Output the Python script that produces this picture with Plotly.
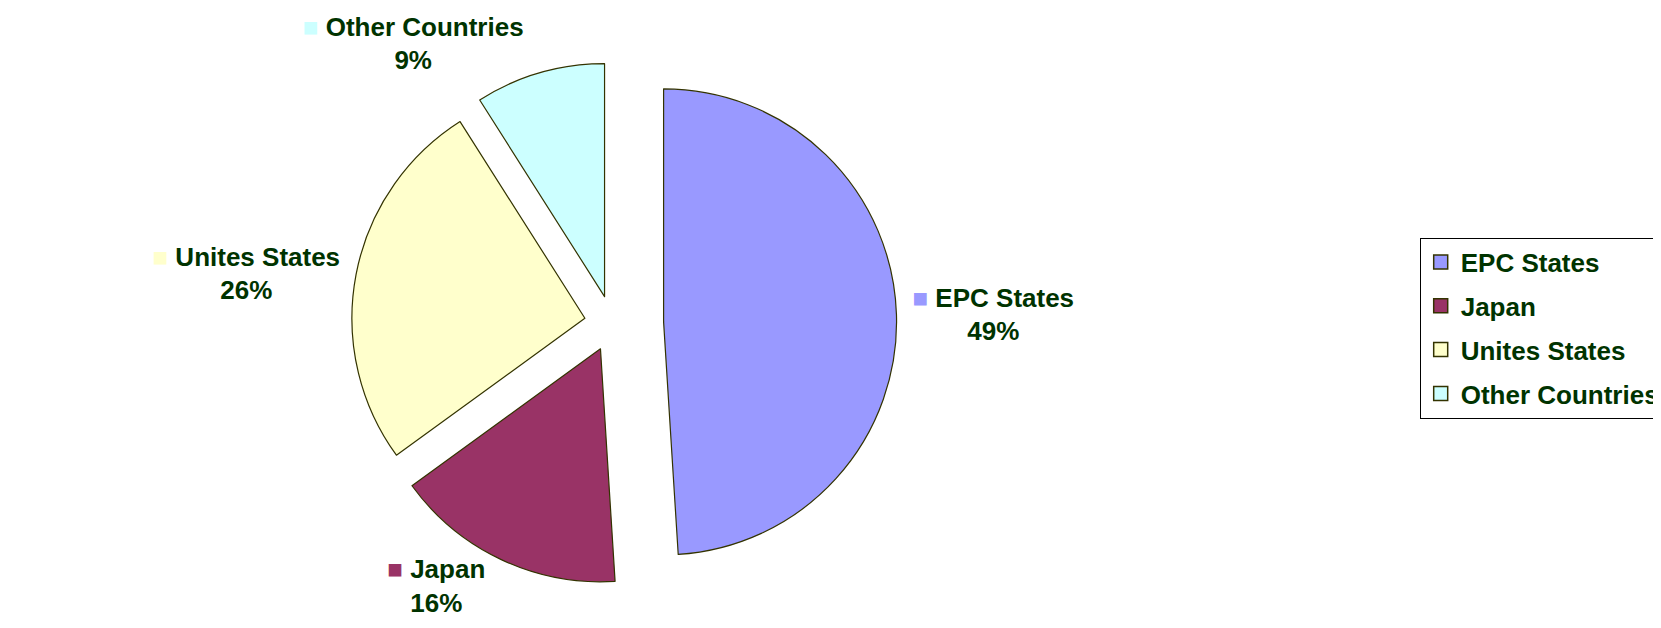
import plotly.graph_objects as go

categories = ["EPC States", "Japan", "Unites States", "Other Countries"]
values = [49, 16, 26, 9]
colors = ["#9999FF", "#993366", "#FFFFCC", "#CCFFFF"]

text_color = "#003300"
outline = "#333300"
font_family = "Liberation Sans, Arial, sans-serif"

templates = [
    "<span style='color:%s'>■</span> <b>%%{label}</b><br><b>%%{percent:.0%%}</b>" % c
    for c in colors
]

fig = go.Figure()
fig.add_trace(
    go.Pie(
        labels=categories,
        values=values,
        sort=False,
        direction="clockwise",
        rotation=0,
        pull=[0.22, 0.12, 0.12, 0.12],
        marker=dict(colors=colors, line=dict(color=outline, width=1.2)),
        texttemplate=templates,
        textposition="outside",
        textfont=dict(family=font_family, size=26, color=text_color),
        domain=dict(x=[0.06, 0.66], y=[0.03, 0.965]),
        hoverinfo="label+percent",
        showlegend=False,
        automargin=False,
    )
)

# legend entries
for name, c in zip(categories, colors):
    fig.add_trace(
        go.Scatter(
            x=[None], y=[None], mode="markers", name=name,
            legendgroup=name,
            marker=dict(symbol="square", size=14, color=c, line=dict(color=outline, width=1.5)),
        )
    )

fig.update_layout(
    width=1661,
    height=628,
    paper_bgcolor="white",
    plot_bgcolor="white",
    margin=dict(l=10, r=0, t=10, b=10, autoexpand=False),
    showlegend=True,
    xaxis=dict(visible=False),
    yaxis=dict(visible=False),
    legend=dict(
        x=0.849,
        y=0.49,
        xanchor="left",
        yanchor="middle",
        bordercolor="#000000",
        borderwidth=1,
        bgcolor="white",
        font=dict(family=font_family, size=26, color=text_color, weight="bold"),
        tracegroupgap=7,
        itemwidth=30,
    ),
    font=dict(family=font_family, color=text_color),
)

fig.write_html("out.html")
